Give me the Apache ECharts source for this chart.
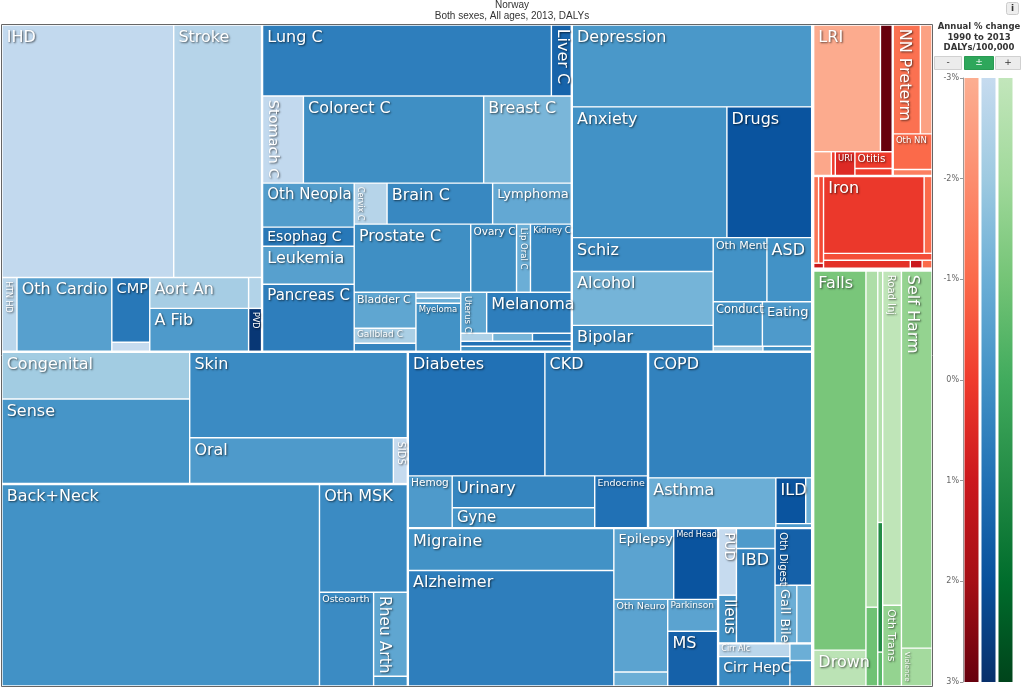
<!DOCTYPE html>
<html><head><meta charset="utf-8">
<script src="https://cdn.jsdelivr.net/npm/echarts@6/dist/echarts.min.js"></script>
<style>html,body{margin:0;padding:0;background:#fff}#c{width:1024px;height:689px}</style>
</head><body><div id="c"></div>
<script>
// ---------------- DATA (DALYs, relative units; annual % change 1990-2013) ----------------
const cardioNames  = ['IHD','Stroke','HTN HD','Oth Cardio','CMP','Endocarditis','Aort An','A Fib','Rheum HD','PVD'];
const cardioDalys  = [43516,22264,1110,7030,2470,342,3069,4257,403,559];
const cardioChange = [-2.9,-2.6,-2.7,-0.5,0.8,-3.0,-2.2,-0.3,-2.5,2.8];

const neoNames  = ['Lung C','Liver C','Stomach C','Colorect C','Breast C','Oth Neopla','Esophag C','Leukemia','Pancreas C','Cervix C','Brain C','Lymphoma','Prostate C','Ovary C','Lip Oral C','Kidney C','Bladder C','Gallblad C','Thyroid C','Larynx C','Testis C','Myeloma','Uterus C','Melanoma','Mesothelioma','Hodgkin','NPC','Oth Pharynx','Non-melanoma'];
const neoDalys  = [20590,1420,3567,15747,7656,4048,1748,3496,6164,1353,4346,3239,7956,3128,952,2788,2232,930,496,270,225,2160,1066,3485,256,320,312,555,555];
const neoChange = [0.6,1.4,-2.9,0.1,-1.3,-0.4,0.8,-0.5,0.6,-2.6,0.3,-0.8,0.1,0.1,-1.0,0.2,-0.7,-2.3,0.4,-2.2,-1.0,0.0,-0.7,0.6,-2.4,-1.2,0.6,1.0,0.0];

const mentalNames  = ['Depression','Anxiety','Drugs','Schiz','Alcohol','Bipolar','Oth Ment','ASD','Conduct','Eating','ADHD','Idiopathic ID'];
const mentalDalys  = [19680,20305,11135,4794,7614,3666,3456,2880,2200,2205,250,245];
const mentalChange = [-0.2,0.0,1.9,0.2,-1.2,0.2,0.0,0.0,-0.1,-0.3,-2.3,0.0];

const otherNames  = ['Congenital','Sense','Skin','Oral','SIDS','Back+Neck','Oth MSK','Osteoarth','Rheu Arth','Gout'];
const otherDalys  = [8836,15980,18748,9384,644,64236,9500,5100,2850,330];
const otherChange = [-2.1,-0.1,0.2,-0.3,-3.0,0.0,0.2,0.2,-0.7,0.0];

const dubeNames  = ['Diabetes','CKD','Hemog','Urinary','Gyne','Endocrine','COPD','Asthma','ILD','Pneumoconiosis','Oth Resp'];
const dubeDalys  = [16988,12772,2288,4576,2860,2756,20664,6400,1380,276,144];
const dubeChange = [1.0,0.6,-0.3,0.4,-0.1,1.0,0.5,-1.0,1.9,-1.0,-0.3];

const neuroNames  = ['Migraine','Alzheimer','Epilepsy','Med Head','Oth Neuro','Tension HA','Parkinson','MS','PUD','Ileus','Hernia','IBD','Oth Digest','Gall Bile','Pancreatitis','Cirr Alc','Cirr HepC','Cirr HepB','Cirr Oth'];
const neuroDalys  = [8652,23896,4260,3124,3942,756,1600,2750,1206,864,780,3705,2109,1276,870,936,2160,374,572];
const neuroChange = [0.0,0.6,-0.6,1.9,-0.6,-1.0,-0.6,1.5,-3.0,0.0,-0.3,0.5,1.5,-1.0,-1.0,-2.7,0.2,-1.0,0.2];

const commNames  = ['LRI','Oth Infect','Diarrhea','Meningitis','URI','Otitis','Encephalitis','NN Preterm','NN Enceph','Oth NN','NN Sepsis','Hepatitis','Typhoid','Oth NTD','Iron','Oth Nutr','Maternal','PEM','Iodine','Vit A'];
const commDalys  = [8704,1536,432,96,480,646,266,3080,1320,1440,240,440,440,50,7956,624,770,704,96,80];
const commChange = [-2.9,3.0,-2.8,0.0,0.5,0.0,0.0,-1.2,-2.6,-1.0,-1.6,-1.3,-0.3,1.0,0.1,-1.0,-0.4,0.3,1.0,-1.0];

const injNames  = ['Falls','Drown','Oth Unintent','Mech Force','Fire','Poison','Animal','Road Inj','Oth Trans','Self Harm','Violence'];
const injDalys  = [20140,1908,4044,948,1260,650,170,6365,1539,11718,1178];
const injChange = [-1.1,-2.8,-2.4,-0.9,-2.6,1.0,-0.5,-2.9,-1.7,-1.7,-2.1];

const scaleMin = -3, scaleMax = 3;

// ---------------- STYLES ----------------
const STOPS = {
  b: ['#c6dbef','#9ecae1','#6baed6','#4292c6','#2171b5','#08519c','#08306b'],
  r: ['#fcae91','#fc8d6f','#fb6a4a','#ef3b2c','#cb181d','#a50f15','#67000d'],
  g: ['#c2e6bb','#a1d99b','#74c476','#41ab5d','#238b45','#006d2c','#00441b']
};
const labelSizes = {
  'IHD':16,'Stroke':16,'Oth Cardio':16,'CMP':14.5,'Aort An':16,'A Fib':16,
  'Lung C':16,'Colorect C':16,'Breast C':16,'Oth Neopla':15,'Brain C':16,'Lymphoma':13,'Esophag C':14,'Leukemia':16,'Pancreas C':15,'Prostate C':16,'Ovary C':10.5,'Kidney C':8.5,'Bladder C':11,'Gallblad C':9,'Myeloma':8.5,'Melanoma':16,
  'Depression':16,'Anxiety':16,'Drugs':16,'Schiz':16,'Alcohol':16,'Bipolar':16,'Oth Ment':11,'ASD':16,'Conduct':11.5,'Eating':13,
  'Congenital':16,'Sense':16,'Skin':16,'Oral':16,'Back+Neck':16,'Oth MSK':16,'Osteoarth':9.5,
  'Diabetes':16,'CKD':16,'Hemog':10.5,'Urinary':16,'Gyne':15,'Endocrine':9.5,'COPD':16,'Asthma':16,'ILD':16,
  'Migraine':16,'Alzheimer':16,'Epilepsy':13,'Med Head':8,'Oth Neuro':9.5,'Parkinson':9,'MS':16,'IBD':16,'Cirr Alc':8,'Cirr HepC':14,
  'LRI':16,'URI':8.5,'Otitis':10.5,'Oth NN':8.5,'Iron':16,'Falls':16,'Drown':16
};
const rotatedSizes = {'Stomach C':14.5,'Liver C':16,'HTN HD':8,'PVD':8,'Cervix C':8,'Lip Oral C':8.5,'Uterus C':8.5,'SIDS':10,'Rheu Arth':15.5,'PUD':13.5,'Ileus':15,'Oth Digest':10,'Gall Bile':13,'NN Preterm':16,'Road Inj':10,'Oth Trans':11,'Self Harm':16,'Violence':7};
const tightPad = {'Esophag C':1,'Gyne':1,'Otitis':1,'Cirr Alc':0,'Gallblad C':1,'URI':1};

// ---------------- BUILD ----------------
const LEAVES = {};
function addGroup(names, vals, chg, fam) { names.forEach((n, i) => { LEAVES[n] = {value: vals[i], change: chg[i], fam}; }); }
addGroup(cardioNames, cardioDalys, cardioChange, 'b');
addGroup(neoNames, neoDalys, neoChange, 'b');
addGroup(mentalNames, mentalDalys, mentalChange, 'b');
addGroup(otherNames, otherDalys, otherChange, 'b');
addGroup(dubeNames, dubeDalys, dubeChange, 'b');
addGroup(neuroNames, neuroDalys, neuroChange, 'b');
addGroup(commNames, commDalys, commChange, 'r');
addGroup(injNames, injDalys, injChange, 'g');

function hex2rgb(h) { return [1, 3, 5].map(i => parseInt(h.slice(i, i + 2), 16)); }
function colorFor(fam, v) {
  const s = STOPS[fam];
  const t = Math.max(0, Math.min(6, v - scaleMin));
  const i = Math.min(5, Math.floor(t)), f = t - i;
  const a = hex2rgb(s[i]), b = hex2rgb(s[i + 1]);
  return 'rgb(' + a.map((x, k) => Math.round(x + (b[k] - x) * f)).join(',') + ')';
}

const H = (...k) => ({d: 'H', k});
const V = (...k) => ({d: 'V', k});
const G = (g, n) => { n.g = g; return n; };

const cardioSpec = V(H('IHD','Stroke'), H('HTN HD','Oth Cardio', V('CMP','Endocarditis'), H(V('Aort An','A Fib'), V('Rheum HD','PVD'))));
const neoSpec = V(H('Lung C','Liver C'), H('Stomach C','Colorect C','Breast C'),
  H(V('Oth Neopla','Esophag C','Leukemia','Pancreas C'),
    V(H('Cervix C','Brain C','Lymphoma'), H('Prostate C','Ovary C','Lip Oral C','Kidney C'),
      H(V('Bladder C','Gallblad C','Thyroid C'), V('Larynx C','Testis C','Myeloma'),
        V(H('Uterus C','Melanoma'), H('Mesothelioma','Hodgkin','NPC'), 'Oth Pharynx', 'Non-melanoma')))));
const mentalSpec = V(V('Depression', H('Anxiety','Drugs')),
  H(V('Schiz','Alcohol','Bipolar'), V(H('Oth Ment','ASD'), H('Conduct','Eating'), H('ADHD','Idiopathic ID'))));
const otherSpec = G(1, V(H(V('Congenital','Sense'), V('Skin', H('Oral','SIDS'))),
  H('Back+Neck', V('Oth MSK', H('Osteoarth', V('Rheu Arth','Gout'))))));
const rightNcdSpec = G(1, V(
  G(1, H(V(H('Diabetes','CKD'), H('Hemog', V('Urinary','Gyne'), 'Endocrine')),
         V('COPD', H('Asthma', V(H('ILD','Pneumoconiosis'), 'Oth Resp'))))),
  G(1, H(H(V('Migraine','Alzheimer'), V(H('Epilepsy','Med Head'), H(V('Oth Neuro','Tension HA'), V('Parkinson','MS')))),
         G(1, V(H(V('PUD','Ileus'), V('Hernia','IBD'), V('Oth Digest', H('Gall Bile','Pancreatitis'))),
                H(V('Cirr Alc','Cirr HepC'), V('Cirr HepB','Cirr Oth'))))))));
const ncdSpec = G(1, V(G(1, H(cardioSpec, neoSpec, mentalSpec)), G(1, H(otherSpec, rightNcdSpec))));
const commSpec = G(1, V(
  G(1, H(V(H('LRI','Oth Infect'), H('Diarrhea','Meningitis','URI', V('Otitis','Encephalitis'))),
         V(H('NN Preterm','NN Enceph'), 'Oth NN', 'NN Sepsis'))),
  H(V(H('Hepatitis','Typhoid'), 'Oth NTD'), V(H('Iron','Oth Nutr'), 'Maternal', H('PEM','Iodine','Vit A')))));
const injSpec = H(V('Falls','Drown'), V('Oth Unintent','Mech Force'), V('Fire','Poison','Animal'), V('Road Inj','Oth Trans'), V('Self Harm','Violence'));
const rootSpec = H(ncdSpec, G(3, V(commSpec, injSpec)));

const SHADOW = {color: '#fff', fontFamily: 'DejaVu Sans', textShadowColor: 'rgba(0,0,0,0.65)', textShadowBlur: 2, textShadowOffsetX: 1, textShadowOffsetY: 1, overflow: 'none'};
function labelFor(name) {
  if (rotatedSizes[name]) {
    const fs = rotatedSizes[name], lh = Math.round(fs * 1.15);
    return Object.assign({show: true, fontSize: fs, lineHeight: lh, rotate: -90, position: [lh + 1, 3], align: 'left', verticalAlign: 'top', padding: 0}, SHADOW);
  }
  if (labelSizes[name]) {
    const fs = labelSizes[name], lh = Math.round(fs * 1.15);
    const top = tightPad[name] != null ? tightPad[name] : (fs >= 13 ? 3 : 1);
    const left = fs >= 13 ? 4 : 2;
    return Object.assign({show: true, fontSize: fs, lineHeight: lh, position: 'insideTopLeft', padding: [top, 1, 0, left]}, SHADOW);
  }
  return {show: false};
}
function sumOf(s) { return typeof s === 'string' ? LEAVES[s].value : s.k.reduce((a, c) => a + sumOf(c), 0); }
let gid = 0;
function leafNode(name) {
  const L = LEAVES[name];
  return {name, value: L.value, itemStyle: {color: colorFor(L.fam, L.change), borderWidth: 0.7, borderColor: '#fff'}, label: labelFor(name)};
}
function breaker() { return {name: '', value: 1e-20, itemStyle: {borderWidth: 0, color: '#fff'}, label: {show: false}}; }
function build(s, w, h) { return typeof s === 'string' ? leafNode(s) : group(s.d, s.k, w, h, s.g || 0); }
function group(d, kids, w, h, g) {
  const areas = kids.map(sumOf), tot = areas.reduce((a, b) => a + b, 0);
  const wide = w > h, children = [];
  const dims = i => d === 'H' ? [w * areas[i] / tot, h] : [w, h * areas[i] / tot];
  if ((d === 'V') === wide) {
    kids.forEach((k, i) => children.push(build(k, ...dims(i))));
  } else {
    let rw = w, rh = h;
    for (let i = 0; i < kids.length; i++) {
      if (i > 0) {
        children.push(breaker());
        if ((rw > rh) !== wide && i < kids.length - 1) { children.push(group(d, kids.slice(i), rw, rh, g)); break; }
      }
      const [cw, ch] = dims(i);
      children.push(build(kids[i], cw, ch));
      if (d === 'H') rw -= cw; else rh -= ch;
    }
  }
  return {name: 'grp' + (gid++), children, itemStyle: {gapWidth: g, borderWidth: 0}};
}
const treeData = group(rootSpec.d, rootSpec.k, 928, 659, 0).children;

// ---------------- LEGEND GRADIENTS ----------------
function grad(fam, from, to) {
  const s = STOPS[fam].slice(from, to + 1);
  return new echarts.graphic.LinearGradient(0, 0, 0, 1, s.map((c, i) => ({offset: i / (s.length - 1), color: c})));
}
const fams = ['r', 'b', 'g'];

const chart = echarts.init(document.getElementById('c'));
chart.setOption({
  animation: false,
  backgroundColor: '#fff',
  title: {
    text: 'Norway', subtext: 'Both sexes, All ages, 2013, DALYs', left: 'center', top: 0, padding: 0, itemGap: 0,
    textStyle: {fontSize: 10, fontWeight: 'normal', color: '#333', fontFamily: 'Liberation Sans', lineHeight: 11},
    subtextStyle: {fontSize: 10, color: '#333', fontFamily: 'Liberation Sans', lineHeight: 11}
  },
  grid: {left: 963, top: 78, width: 51, height: 604},
  xAxis: {type: 'category', data: fams, show: false},
  yAxis: {
    type: 'value', min: scaleMin, max: scaleMax, interval: 1, inverse: true,
    axisLine: {show: true, lineStyle: {color: '#999'}},
    axisTick: {show: true, length: 3, lineStyle: {color: '#999'}},
    splitLine: {show: false},
    axisLabel: {formatter: v => v + '%', fontSize: 8, color: '#666', fontFamily: 'DejaVu Sans', margin: 4}
  },
  series: [
    {type: 'treemap', left: 2, top: 25, width: 930, height: 661, roam: false, nodeClick: false, sort: false,
     squareRatio: 1e6, visibleMin: 0, breadcrumb: {show: false}, silent: true,
     itemStyle: {borderWidth: 0, gapWidth: 0, borderColor: '#fff'},
     levels: [{itemStyle: {gapWidth: 2, borderWidth: 0}}],
     upperLabel: {show: false},
     data: treeData},
    {type: 'bar', barWidth: 14, barGap: '-100%', silent: true,
     data: fams.map(f => ({value: scaleMin, itemStyle: {color: grad(f, 0, 3)}}))},
    {type: 'bar', barWidth: 14, barGap: '-100%', silent: true,
     data: fams.map(f => ({value: scaleMax, itemStyle: {color: grad(f, 3, 6)}}))}
  ],
  graphic: [
    {type: 'rect', shape: {x: 1.5, y: 24.5, width: 931, height: 662}, style: {fill: 'none', stroke: '#666', lineWidth: 1}, z: 100, silent: true},
    {type: 'text', x: 979, y: 27, style: {text: 'Annual % change', font: 'bold 8.5px "DejaVu Sans"', fill: '#333', align: 'center', verticalAlign: 'middle'}},
    {type: 'text', x: 979, y: 37.5, style: {text: '1990 to 2013', font: 'bold 8.5px "DejaVu Sans"', fill: '#333', align: 'center', verticalAlign: 'middle'}},
    {type: 'text', x: 979, y: 48, style: {text: 'DALYs/100,000', font: 'bold 8.5px "DejaVu Sans"', fill: '#333', align: 'center', verticalAlign: 'middle'}},
    {type: 'rect', shape: {x: 934.5, y: 56.5, width: 27, height: 13}, style: {fill: '#ececec', stroke: '#d0d0d0', lineWidth: 1}},
    {type: 'text', x: 948, y: 63, style: {text: '-', font: '9px "DejaVu Sans"', fill: '#333', align: 'center', verticalAlign: 'middle'}},
    {type: 'rect', shape: {x: 964.5, y: 56.5, width: 29, height: 13}, style: {fill: '#2ea75b', stroke: '#2a9a53', lineWidth: 1}},
    {type: 'text', x: 979, y: 63, style: {text: '±', font: '9px "DejaVu Sans"', fill: '#fff', align: 'center', verticalAlign: 'middle'}},
    {type: 'rect', shape: {x: 995.5, y: 56.5, width: 25, height: 13}, style: {fill: '#ececec', stroke: '#d0d0d0', lineWidth: 1}},
    {type: 'text', x: 1008, y: 63, style: {text: '+', font: '9px "DejaVu Sans"', fill: '#333', align: 'center', verticalAlign: 'middle'}},
    {type: 'rect', shape: {x: 1006.5, y: 2.5, width: 12, height: 12, r: 2}, style: {fill: '#eeeeee', stroke: '#cccccc', lineWidth: 1}},
    {type: 'text', x: 1012.5, y: 8.5, style: {text: 'i', font: 'bold 9px "DejaVu Sans"', fill: '#333', align: 'center', verticalAlign: 'middle'}}
  ]
});
</script></body></html>
